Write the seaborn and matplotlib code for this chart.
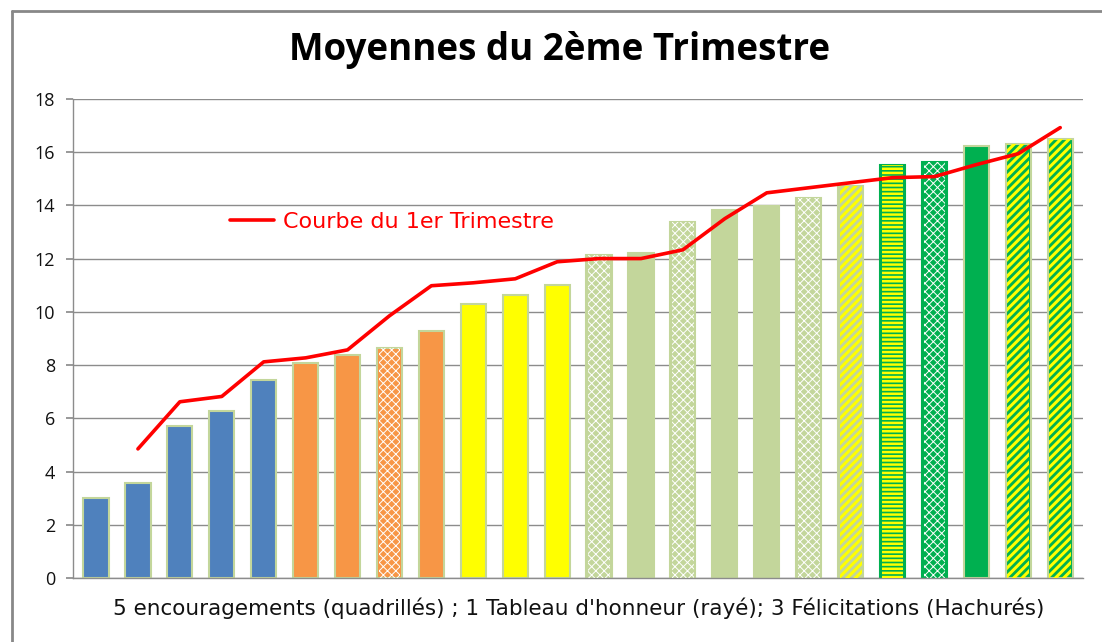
import matplotlib.pyplot as plt
import matplotlib.lines as mlines
import numpy as np
import pandas as pd
import seaborn as sns

# moyennes du 2e trimestre (barres) et du 1er trimestre (courbe)
eleves = list(range(1, 25))
moy_t2 = [3.0, 3.55, 5.7, 6.28, 7.44, 8.08, 8.38, 8.65, 9.29, 10.3, 10.64, 11.02,
          12.14, 12.22, 13.38, 13.83, 13.98, 14.29, 14.74, 15.53, 15.64, 16.24, 16.32, 16.5]
moy_t1 = [np.nan, 4.85, 6.62, 6.82, 8.12, 8.27, 8.57, 9.85, 10.98, 11.09, 11.24, 11.88,
          12.0, 12.0, 12.33, 13.5, 14.47, 14.66, 14.85, 15.04, 15.08, 15.53, 15.94, 16.92]
couleurs = ['#4F81BD'] * 5 + ['#F79646'] * 4 + ['#FFFF00'] * 3 + ['#C3D69B'] * 7 + ['#00B050'] * 5
# motif: '' plein, 'q' quadrillé, 'r' rayé, 'h' hachuré
motifs = ['', '', '', '', '', '', '', 'q', '', '', '', '',
          'q', '', 'q', '', '', 'q', 'h', 'r', 'q', '', 'h', 'h']
legende = "Courbe du 1er Trimestre"
titre = "Moyennes du 2ème Trimestre"
sous_titre = "5 encouragements (quadrillés) ; 1 Tableau d'honneur (rayé); 3 Félicitations (Hachurés)"

df = pd.DataFrame({'eleve': eleves, 't2': moy_t2, 't1': moy_t1})

sns.set_theme(style='white')
fig, ax = plt.subplots(figsize=(11.02, 6.42), dpi=100)
fig.subplots_adjust(left=0.0662, right=0.983, bottom=0.0997, top=0.846)

sns.barplot(data=df, x='eleve', y='t2', hue='eleve', palette=couleurs, legend=False,
            width=0.6, ax=ax, saturation=1, zorder=2)

pos = np.arange(len(eleves))
for i, p in enumerate(ax.patches):
    edge = '#00B050' if motifs[i] in ('r', 'q') and couleurs[i] == '#00B050' else '#C3D69B'
    p.set_edgecolor(edge)
    p.set_linewidth(1.5)

# superposition des motifs
styles = {'q': ('xxxx', 'white', 0.7), 'h': ('////', '#FFFF00', 2.2), 'r': ('----', '#FFFF00', 1.8)}
for code, (hatch, col, lw) in styles.items():
    sel = [i for i, m in enumerate(motifs) if m == code]
    with plt.rc_context({'hatch.linewidth': lw}):
        ax.bar(pos[sel], [moy_t2[i] for i in sel], width=0.52, color='none',
               edgecolor=col, linewidth=0, hatch=hatch, zorder=3)

line_df = df.assign(x=pos).dropna()
sns.lineplot(data=line_df, x='x', y='t1', color='#FF0000', linewidth=2.6, ax=ax,
             zorder=4, label=legende)

ax.set_ylim(0, 18)
ax.set_xlim(-0.55, len(eleves) - 0.45)
ax.set_yticks(range(0, 19, 2))
ax.yaxis.grid(True, color='#8C8C8C', linewidth=1.0)
ax.set_axisbelow(True)
ax.set_xticks([])
ax.set_xlabel('')
ax.set_ylabel('')
for s in ['top', 'right']:
    ax.spines[s].set_visible(False)
for s in ['left', 'bottom']:
    ax.spines[s].set_color('#8C8C8C')
    ax.spines[s].set_linewidth(1.0)
ax.tick_params(axis='y', left=True, length=5, color='#8C8C8C', labelsize=13,
               labelcolor='#111111', pad=8)
for t in ax.get_yticklabels():
    t.set_fontfamily(['Open Sans', 'DejaVu Sans'])

leg = ax.legend(loc='center left', bbox_to_anchor=(0.1465, 0.743), frameon=False,
                handlelength=2.0, handletextpad=0.4, borderaxespad=0,
                prop={'size': 16, 'family': 'DejaVu Sans'}, labelcolor='#FF0000')

fig.text(0.508, 0.922, titre, ha='center', va='center', fontsize=26.5,
         fontweight='bold', family=['Open Sans', 'DejaVu Sans'], color='black')
fig.text(0.525, 0.052, sous_titre, ha='center', va='center', fontsize=15.5,
         family='DejaVu Sans', color='#111111')

# cadre du graphique
fig.add_artist(mlines.Line2D([0.0105, 1.0], [0.983, 0.983], color='#888888', lw=2,
                             transform=fig.transFigure))
fig.add_artist(mlines.Line2D([0.0105, 0.0105], [0.0, 0.983], color='#888888', lw=2,
                             transform=fig.transFigure))

fig.savefig('out.png', dpi=100)
